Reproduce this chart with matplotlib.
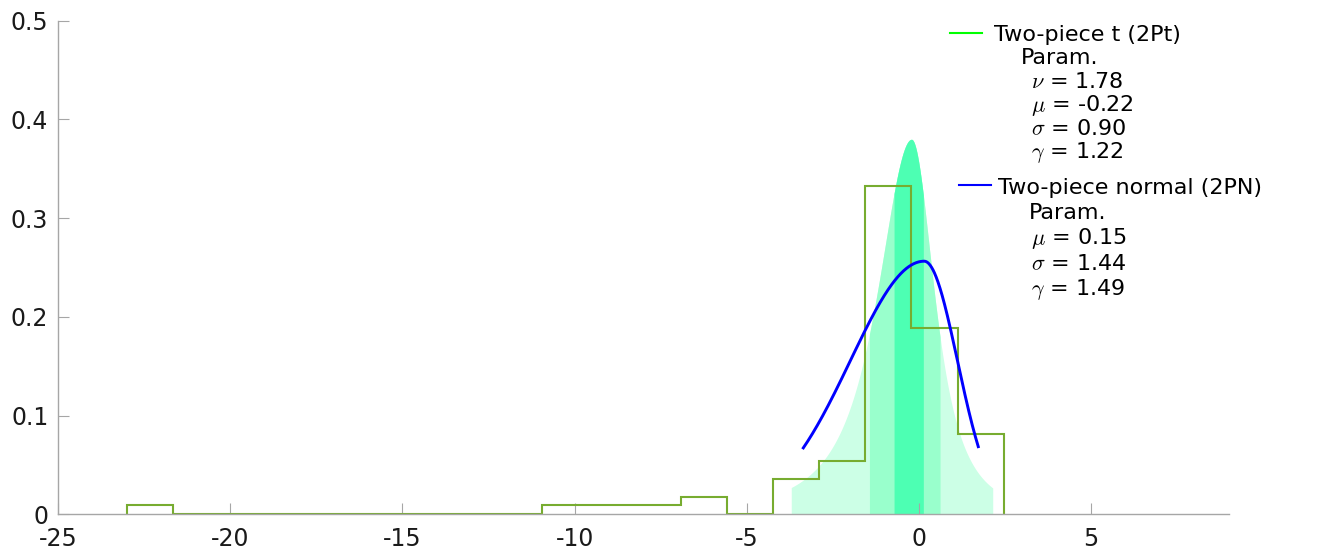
import math
import numpy as np
import matplotlib
matplotlib.use("Agg")
import matplotlib.pyplot as plt
from matplotlib.lines import Line2D

# ---- histogram of observations ----
bin_start = -23.0
bin_width = 1.34
bin_counts = [1, 0, 0, 0, 0, 0, 0, 0, 0, 1, 1, 1, 2, 0, 4, 6, 37, 21, 9]

# ---- two-piece t fit (2Pt) ----
t_nu = 1.78
t_mu = -0.22
t_sigma = 0.90
t_gamma = 1.22
# shaded credible bands (outer, middle, inner)
t_bands = [(-3.71, 2.14), (-1.44, 0.61), (-0.725, 0.125)]
t_band_colors = ["#CCFFE6", "#99FFCC", "#4DFFB3"]

# ---- two-piece normal fit (2PN) ----
n_mu = 0.15
n_sigma = 1.44
n_gamma = 1.49
n_range = (-3.36, 1.72)

x_ticks = [-25, -20, -15, -10, -5, 0, 5]
y_ticks = [0, 0.1, 0.2, 0.3, 0.4, 0.5]


def t_pdf(z, nu):
    c = math.gamma((nu + 1) / 2) / (math.sqrt(nu * math.pi) * math.gamma(nu / 2))
    return c * (1 + z ** 2 / nu) ** (-(nu + 1) / 2)


def norm_pdf(z):
    return np.exp(-0.5 * z ** 2) / math.sqrt(2 * math.pi)


def two_piece(x, mu, sigma, gam, base):
    k = 2.0 / (gam + 1.0 / gam) / sigma
    left = base((x - mu) / (sigma * gam))
    right = base(gam * (x - mu) / sigma)
    return k * np.where(x < mu, left, right)


plt.rcParams["font.family"] = ["DejaVu Sans"]
plt.rcParams["mathtext.fontset"] = "cm"

W, H = 1338, 552
TICK_FS = 17
LEG_FS = 16
fig = plt.figure(figsize=(W / 100, H / 100), dpi=100)
ax = fig.add_axes([58 / W, 1 - 514.3 / H, (1229 - 58) / W, (514.3 - 20.7) / H])

# shaded 2Pt density bands
for (lo, hi), col in zip(t_bands, t_band_colors):
    xs = np.linspace(lo, hi, 600)
    ys = two_piece(xs, t_mu, t_sigma, t_gamma, lambda z: t_pdf(z, t_nu))
    ax.fill_between(xs, 0, ys, color=col, linewidth=0, zorder=1)

# histogram outline (density scale)
counts = np.array(bin_counts, dtype=float)
edges = bin_start + bin_width * np.arange(len(bin_counts) + 1)
dens = counts / (counts.sum() * bin_width)
ax.stairs(dens, edges, baseline=0, fill=False, color="#77AC30", linewidth=1.5, zorder=2)

# 2PN density curve
xn = np.linspace(n_range[0], n_range[1], 500)
yn = two_piece(xn, n_mu, n_sigma, n_gamma, norm_pdf)
ax.plot(xn, yn, color="#0000FF", linewidth=2.1, zorder=3)

ax.set_xlim(-25, 9)
ax.set_ylim(0, 0.5)
ax.set_xticks(x_ticks)
ax.set_xticklabels([str(v) for v in x_ticks])
ax.set_yticks(y_ticks)
ax.set_yticklabels(["0" if v == 0 else f"{v:.1f}" for v in y_ticks])

spine_col = "#A6A6A6"
for side in ("top", "right"):
    ax.spines[side].set_visible(False)
for side in ("left", "bottom"):
    ax.spines[side].set_color(spine_col)
    ax.spines[side].set_linewidth(1.0)
ax.tick_params(axis="both", direction="in", length=8, width=0.8, color=spine_col,
               labelsize=TICK_FS, labelcolor="#1A1A1A")
ax.tick_params(axis="y", pad=7)
ax.tick_params(axis="x", pad=9)


def ftext(x, y, s):
    fig.text(x / W, 1 - y / H, s, fontsize=LEG_FS, color="black", ha="left",
             va="baseline")


def fhandle(x0, x1, y, col):
    fig.add_artist(Line2D([x0 / W, x1 / W], [1 - y / H, 1 - y / H],
                          transform=fig.transFigure, color=col, linewidth=1.5))


# legend: 2Pt
fhandle(950, 982, 32.7, "#00FF00")
ftext(994, 41, "Two-piece t (2Pt)")
ftext(1021, 64.4, "Param.")
ftext(1031, 87.8, r"$\nu$ = %.2f" % t_nu)
ftext(1031, 111.2, r"$\mu$ = %.2f" % t_mu)
ftext(1031, 134.6, r"$\sigma$ = %.2f" % t_sigma)
ftext(1031, 158, r"$\gamma$ = %.2f" % t_gamma)

# legend: 2PN
fhandle(959, 991, 185, "#0000FF")
ftext(998, 193.5, "Two-piece normal (2PN)")
ftext(1029, 219, "Param.")
ftext(1031, 244.3, r"$\mu$ = %.2f" % n_mu)
ftext(1031, 269.6, r"$\sigma$ = %.2f" % n_sigma)
ftext(1031, 295, r"$\gamma$ = %.2f" % n_gamma)

fig.savefig("out.png", dpi=100)
